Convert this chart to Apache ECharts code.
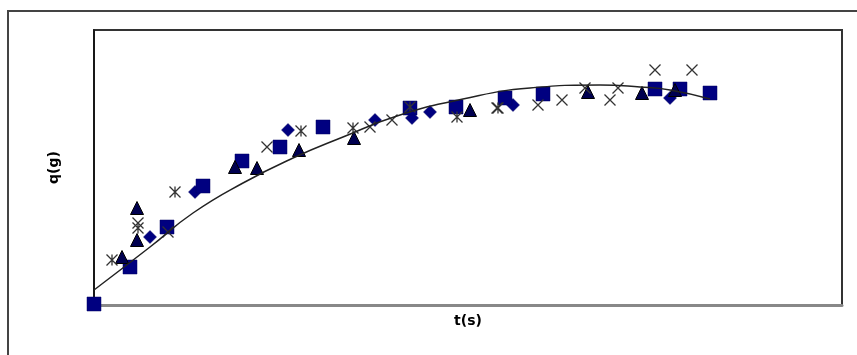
<!DOCTYPE html>
<html>
<head>
<meta charset="utf-8">
<script src="https://cdn.jsdelivr.net/npm/echarts@6/dist/echarts.min.js"></script>
<style>
html,body{margin:0;padding:0;background:#fff;}
#chart{width:857px;height:355px;}
</style>
</head>
<body>
<div id="chart"></div>
<script>
// Values (t, q) in arbitrary chart units
const diamonds = [[56,68],[101,113],[194,175],[281,185],[318,187],[336,193],[419,200],[576,207]];
const squares = [[0,1],[36,38],[73,78],[109,119],[148,144],[186,158],[229,178],[316,197],[362,198],[411,207],[449,211],[561,216],[586,216],[616,212]];
const triangles = [[28,48],[43,65],[43,97],[141,138],[163,137],[205,155],[260,167],[376,195],[494,213],[548,212],[581,215]];
const crosses = [[44,82],[74,73],[173,158],[276,178],[298,185],[403,197],[444,200],[468,205],[491,217],[516,205],[524,217],[561,235],[598,235]];
const asterisks = [[18,45],[44,77],[81,113],[207,174],[259,177],[316,198],[363,188],[404,197]];
const fitCurve = [[0,15],[56,58],[99,92],[149,122],[199,147],[249,168],[303,189],[369,206],[436,217],[506,220],[546,218],[576,215],[616,206]];
const xName = 't(s)';
const yName = 'q(g)';

const chart = echarts.init(document.getElementById('chart'));
const crossPath = 'path://M0,0L10,10M10,0L0,10';
const starPath = 'path://M0,0L10,10M10,0L0,10M5,0L5,10';
chart.setOption({
  animation: false,
  backgroundColor: '#ffffff',
  grid: {left: 94, top: 30, right: 15, bottom: 50, show: true, borderColor: '#333', borderWidth: 2, backgroundColor: '#fff'},
  graphic: [{
    type: 'rect', z: -10, silent: true,
    shape: {x: 8, y: 11, width: 900, height: 400},
    style: {fill: 'none', stroke: '#444', lineWidth: 2}
  }],
  xAxis: {
    type: 'value', min: 0, max: 748,
    name: xName, nameLocation: 'middle', nameGap: 9,
    nameTextStyle: {fontFamily: 'DejaVu Sans', fontWeight: 'bold', fontSize: 14, color: '#000'},
    axisLine: {show: true, onZero: false, lineStyle: {color: '#888', width: 3}},
    axisTick: {show: false}, axisLabel: {show: false}, splitLine: {show: false}
  },
  yAxis: {
    type: 'value', min: 0, max: 275,
    name: yName, nameLocation: 'middle', nameGap: 33,
    nameTextStyle: {fontFamily: 'DejaVu Sans', fontWeight: 'bold', fontSize: 14, color: '#000'},
    axisLine: {show: true, onZero: false, lineStyle: {color: '#111', width: 1.5}},
    axisTick: {show: false}, axisLabel: {show: false}, splitLine: {show: false}
  },
  series: [
    {type: 'scatter', data: diamonds, symbol: 'diamond', symbolSize: 13, clip: false,
     itemStyle: {color: '#000080', borderColor: '#000060', borderWidth: 0.5, opacity: 1}},
    {type: 'scatter', data: squares, symbol: 'rect', symbolSize: 14, clip: false,
     itemStyle: {color: '#000080', borderColor: '#000060', borderWidth: 0.5, opacity: 1}},
    {type: 'scatter', data: triangles, symbol: 'triangle', symbolSize: 13, clip: false,
     itemStyle: {color: '#000050', borderColor: '#000', borderWidth: 1, opacity: 1}},
    {type: 'scatter', data: crosses, symbol: crossPath, symbolSize: 11, clip: false,
     itemStyle: {color: 'none', borderColor: '#333', borderWidth: 1.3, opacity: 1}},
    {type: 'scatter', data: asterisks, symbol: starPath, symbolSize: 11, clip: false,
     itemStyle: {color: 'none', borderColor: '#333', borderWidth: 1.3, opacity: 1}},
    {type: 'line', data: fitCurve, smooth: 0.5, showSymbol: false, symbol: 'none',
     lineStyle: {color: '#222', width: 1.5}}
  ]
});
</script>
</body>
</html>
